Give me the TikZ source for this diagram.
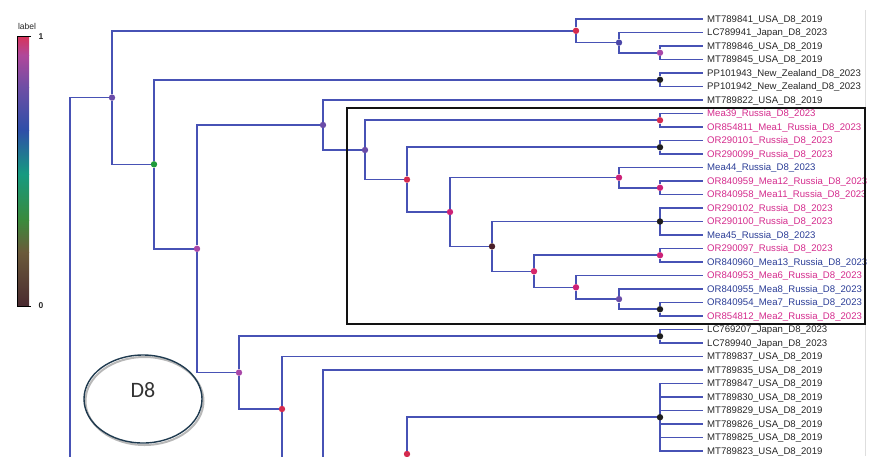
\documentclass[tikz,border=0pt]{standalone}
\usepackage{fontspec}
\setmainfont{Liberation Sans}
\newfontfamily\ovalfont{Carlito}
\definecolor{trBranch}{HTML}{4752B5}
\definecolor{trRed}{HTML}{D42A4E}
\definecolor{trRose}{HTML}{D6286A}
\definecolor{trBlue}{HTML}{4A46A8}
\definecolor{trOrchid}{HTML}{A847A8}
\definecolor{trPurple}{HTML}{6A4CA8}
\definecolor{trGreen}{HTML}{1E9A3A}
\definecolor{trHot}{HTML}{CC2277}
\definecolor{trBrown}{HTML}{4A1E28}
\definecolor{trBlack}{HTML}{1E1E1E}
\definecolor{txDark}{HTML}{262626}
\definecolor{txPink}{HTML}{D42A8C}
\definecolor{txBlue}{HTML}{2A3C96}
\definecolor{ovEdge}{HTML}{1F3A4F}
\definecolor{sc0}{HTML}{4A2A30}
\definecolor{sc1}{HTML}{6B5A3A}
\definecolor{sc2}{HTML}{3A8A3C}
\definecolor{sc3}{HTML}{169A80}
\definecolor{sc4}{HTML}{2E4EA8}
\definecolor{sc5}{HTML}{6E4EA5}
\definecolor{sc6}{HTML}{B0489A}
\definecolor{sc7}{HTML}{D8345A}
\usetikzlibrary{calc}
\pgfdeclarelayer{bg}
\pgfsetlayers{bg,main}

\begin{document}
\begin{tikzpicture}[x=1pt, y=-1pt,
  edge/.style={draw=trBranch, line width=1.6pt},
  dot/.style={circle, fill=#1, inner sep=0pt, minimum size=6.4pt},
  leaf/.style={anchor=west, inner xsep=4pt, inner ysep=0pt, text height=6.8pt, text depth=0pt,
    font=\fontsize{9.6}{11}\selectfont},
  legendtxt/.style={font=\fontsize{8.5}{10}\selectfont, text=txDark, inner sep=0pt}]
  \useasboundingbox (0,0) rectangle (877,464);

  % colour key, drawn in strips from 0 (bottom) to 1 (top)
  \foreach \ca/\cb/\ya/\yb in {sc0/sc1/306/252, sc1/sc2/252/220, sc2/sc3/220/174,
      sc3/sc4/174/130, sc4/sc5/130/87, sc5/sc6/87/55, sc6/sc7/55/36}
    \shade[bottom color=\ca, top color=\cb] (17,\ya) rectangle (29,\yb);
  \draw[black, line width=1pt] (31,36) -| (17,306) -- (31,306);
  \node[legendtxt] (keyTitle) at (27,26) {label};
  \node[legendtxt, font=\fontsize{8.5}{10}\selectfont\bfseries] (keyTop) at (41,37) {1};
  \node[legendtxt, font=\fontsize{8.5}{10}\selectfont\bfseries] (keyBot) at (41,306) {0};

  % faint frame on the right
  \draw[black!13, line width=0.6pt] (865,10) -- (865,456);

  % genotype oval
  \draw[black!28, line width=2pt] (144.5,401) ellipse (59 and 44);
  \draw[ovEdge, line width=1.4pt] (143,399) ellipse (59 and 44);
  \node[font=\ovalfont\fontsize{22}{26}\selectfont, text=black!80] (ovalTxt) at (143,390) {D8};

  \begin{scope}
    \clip (0,0) rectangle (877,456);
    % tips
    \foreach \lab/\col [count=\i] in {
      MT789841\_USA\_D8\_2019/txDark, LC789941\_Japan\_D8\_2023/txDark,
      MT789846\_USA\_D8\_2019/txDark, MT789845\_USA\_D8\_2019/txDark,
      PP101943\_New\_Zealand\_D8\_2023/txDark, PP101942\_New\_Zealand\_D8\_2023/txDark,
      MT789822\_USA\_D8\_2019/txDark, Mea39\_Russia\_D8\_2023/txPink,
      OR854811\_Mea1\_Russia\_D8\_2023/txPink, OR290101\_Russia\_D8\_2023/txPink,
      OR290099\_Russia\_D8\_2023/txPink, Mea44\_Russia\_D8\_2023/txBlue,
      OR840959\_Mea12\_Russia\_D8\_2023/txPink, OR840958\_Mea11\_Russia\_D8\_2023/txPink,
      OR290102\_Russia\_D8\_2023/txPink, OR290100\_Russia\_D8\_2023/txPink,
      Mea45\_Russia\_D8\_2023/txBlue, OR290097\_Russia\_D8\_2023/txPink,
      OR840960\_Mea13\_Russia\_D8\_2023/txBlue, OR840953\_Mea6\_Russia\_D8\_2023/txPink,
      OR840955\_Mea8\_Russia\_D8\_2023/txBlue, OR840954\_Mea7\_Russia\_D8\_2023/txBlue,
      OR854812\_Mea2\_Russia\_D8\_2023/txPink, LC769207\_Japan\_D8\_2023/txDark,
      LC789940\_Japan\_D8\_2023/txDark, MT789837\_USA\_D8\_2019/txDark,
      MT789835\_USA\_D8\_2019/txDark, MT789847\_USA\_D8\_2019/txDark,
      MT789830\_USA\_D8\_2019/txDark, MT789829\_USA\_D8\_2019/txDark,
      MT789826\_USA\_D8\_2019/txDark, MT789825\_USA\_D8\_2019/txDark,
      MT789823\_USA\_D8\_2019/txDark}
      \node[leaf, text=\col] (l\i) at (703,{19+13.5*(\i-1)}) {\lab};

    % inner nodes
    \coordinate (nRoot) at (70,480);
    \node[dot=trPurple] (nA) at (112,97.6) {};
    \node[dot=trRed] (nB) at (576,30.8) {};
    \node[dot=trBlue] (nC) at (619,42.6) {};
    \node[dot=trOrchid] (nD) at (660,52.75) {};
    \node[dot=trGreen] (nE) at (154,164.3) {};
    \node[dot=trBlack] (nF) at (660,79.75) {};
    \node[dot=trOrchid] (nG) at (197,248.8) {};
    \node[dot=trPurple] (nH) at (323,125) {};
    \node[dot=trPurple] (nI) at (365,150) {};
    \node[dot=trRed] (nJ) at (660,120.25) {};
    \node[dot=trRed] (nK) at (407,179.6) {};
    \node[dot=trBlack] (nL) at (660,147.25) {};
    \node[dot=trHot] (nM) at (450,212) {};
    \node[dot=trHot] (nN) at (619,177.6) {};
    \node[dot=trHot] (nO) at (660,187.75) {};
    \node[dot=trBrown] (nP) at (492,246.4) {};
    \node[dot=trBlack] (nQ) at (660,221.5) {};
    \node[dot=trRose] (nR) at (534,271.3) {};
    \node[dot=trHot] (nS) at (660,255.25) {};
    \node[dot=trHot] (nT) at (576,287.3) {};
    \node[dot=trPurple] (nU) at (619,299.1) {};
    \node[dot=trBlack] (nV) at (660,309.25) {};
    \node[dot=trOrchid] (nW) at (239,372.6) {};
    \node[dot=trBlack] (nX) at (660,336.25) {};
    \node[dot=trRed] (nY) at (282,409) {};
    \coordinate (cutY) at (323,480);
    \coordinate (cutZ) at (407,490);
    \node[dot=trRed] (nZ) at (407,454) {};
    \node[dot=trBlack] (nZa) at (660,417.25) {};
  \end{scope}

  % Russian cluster box
  \draw[black!93, line width=1.3pt] (347,108) rectangle (865,324);

  \begin{pgfonlayer}{bg}
    \begin{scope}
      \clip (0,0) rectangle (877,456);
      \draw[edge] (nRoot) |- (nA);
      \draw[edge] (nA) |- (nB);  \draw[edge] (nA) |- (nE);
      \draw[edge] (nB) |- (l1.west);  \draw[edge] (nB) |- (nC);
      \draw[edge] (nC) |- (l2.west);  \draw[edge] (nC) |- (nD);
      \draw[edge] (nD) |- (l3.west);  \draw[edge] (nD) |- (l4.west);
      \draw[edge] (nE) |- (nF);  \draw[edge] (nE) |- (nG);
      \draw[edge] (nF) |- (l5.west);  \draw[edge] (nF) |- (l6.west);
      \draw[edge] (nG) |- (nH);  \draw[edge] (nG) |- (nW);
      \draw[edge] (nH) |- (l7.west);  \draw[edge] (nH) |- (nI);
      \draw[edge] (nI) |- (nJ);  \draw[edge] (nI) |- (nK);
      \draw[edge] (nJ) |- (l8.west);  \draw[edge] (nJ) |- (l9.west);
      \draw[edge] (nK) |- (nL);  \draw[edge] (nK) |- (nM);
      \draw[edge] (nL) |- (l10.west);  \draw[edge] (nL) |- (l11.west);
      \draw[edge] (nM) |- (nN);  \draw[edge] (nM) |- (nP);
      \draw[edge] (nN) |- (l12.west);  \draw[edge] (nN) |- (nO);
      \draw[edge] (nO) |- (l13.west);  \draw[edge] (nO) |- (l14.west);
      \draw[edge] (nP) |- (nQ);  \draw[edge] (nP) |- (nR);
      \foreach \k in {15,16,17} \draw[edge] (nQ.center) |- (l\k.west);
      \draw[edge] (nR) |- (nS);  \draw[edge] (nR) |- (nT);
      \draw[edge] (nS) |- (l18.west);  \draw[edge] (nS) |- (l19.west);
      \draw[edge] (nT) |- (l20.west);  \draw[edge] (nT) |- (nU);
      \draw[edge] (nU) |- (l21.west);  \draw[edge] (nU) |- (nV);
      \draw[edge] (nV) |- (l22.west);  \draw[edge] (nV) |- (l23.west);
      \draw[edge] (nW) |- (nX);  \draw[edge] (nW) |- (nY);
      \draw[edge] (nX) |- (l24.west);  \draw[edge] (nX) |- (l25.west);
      \draw[edge] (nY) |- (l26.west);  \draw[edge] (nY) |- (cutY);
      \draw[edge] (cutY) |- (l27.west);
      \draw[edge] (cutZ) |- (nZ);
      \draw[edge] (nZ) |- (nZa);
      \foreach \k in {28,...,33} \draw[edge] (nZa.center) |- (l\k.west);
    \end{scope}
  \end{pgfonlayer}
\end{tikzpicture}
\end{document}
